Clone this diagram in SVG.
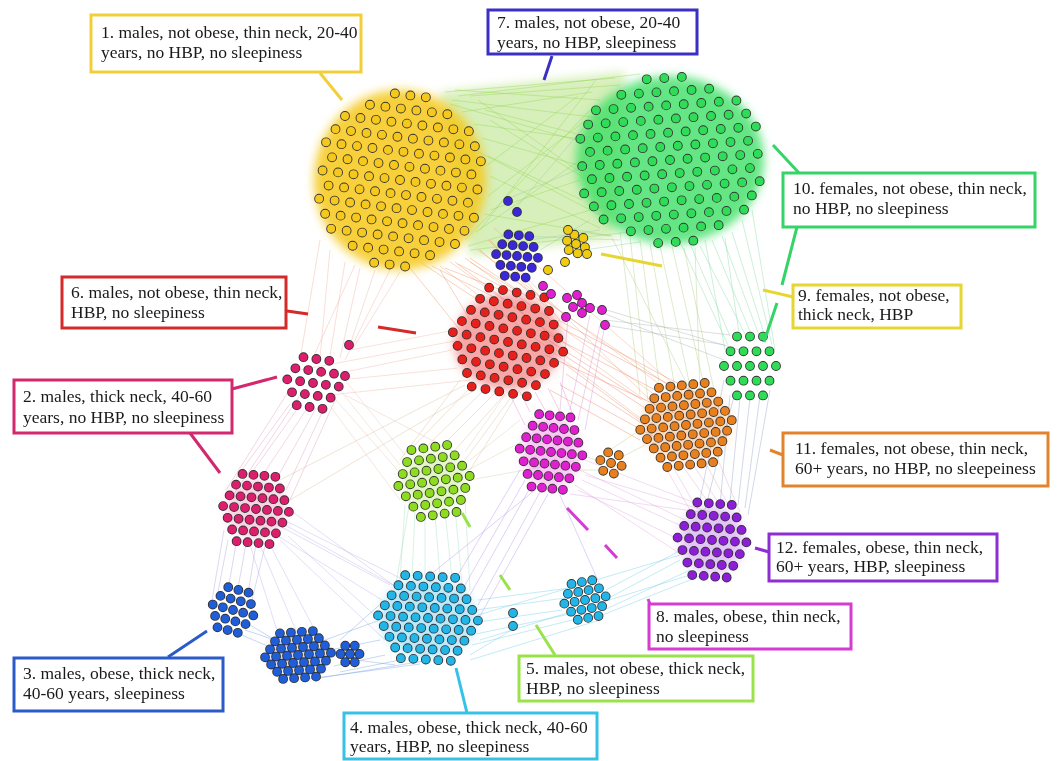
<svg xmlns="http://www.w3.org/2000/svg" xmlns:xlink="http://www.w3.org/1999/xlink" width="1060" height="761" viewBox="0 0 1060 761">
<style>
.lb{fill:#fff;stroke-width:3}
.t{font-size:17.5px;fill:#1a1a1a}
.ld{fill:none;stroke-width:3;stroke-linecap:butt}
.e{fill:none;stroke-width:.7;opacity:.55}
.o{stroke:#333;stroke-width:9.8;fill:none}
.d{stroke-width:8;fill:none}
</style>
<defs>
<filter id="bl" x="-30%" y="-30%" width="160%" height="160%"><feGaussianBlur stdDeviation="5"/></filter>
<path id="B" vector-effect="non-scaling-stroke" stroke-linecap="round" d="M-1-5.196h0m1 0h0m1 0h0M-2.5-4.33h0m1 0h0m1 0h0m1 0h0m1 0h0m1 0h0M-4-3.464h0m1 0h0m1 0h0m1 0h0m1 0h0m1 0h0m1 0h0m1 0h0m1 0h0M-4.5-2.598h0m1 0h0m1 0h0m1 0h0m1 0h0m1 0h0m1 0h0m1 0h0m1 0h0m1 0h0M-5-1.732h0m1 0h0m1 0h0m1 0h0m1 0h0m1 0h0m1 0h0m1 0h0m1 0h0m1 0h0m1 0h0M-4.5-.866h0m1 0h0m1 0h0m1 0h0m1 0h0m1 0h0m1 0h0m1 0h0m1 0h0m1 0h0M-5 0h0m1 0h0m1 0h0m1 0h0m1 0h0m1 0h0m1 0h0m1 0h0m1 0h0m1 0h0m1 0h0M-4.5 .866h0m1 0h0m1 0h0m1 0h0m1 0h0m1 0h0m1 0h0m1 0h0m1 0h0m1 0h0M-5 1.732h0m1 0h0m1 0h0m1 0h0m1 0h0m1 0h0m1 0h0m1 0h0m1 0h0m1 0h0m1 0h0M-4.5 2.598h0m1 0h0m1 0h0m1 0h0m1 0h0m1 0h0m1 0h0m1 0h0m1 0h0m1 0h0M-4 3.464h0m1 0h0m1 0h0m1 0h0m1 0h0m1 0h0m1 0h0m1 0h0m1 0h0M-2.5 4.33h0m1 0h0m1 0h0m1 0h0m1 0h0m1 0h0M-1 5.196h0m1 0h0m1 0h0"/>
<path id="M" vector-effect="non-scaling-stroke" stroke-linecap="round" d="M-2-3.464h0m1 0h0m1 0h0m1 0h0m1 0h0M-2.5-2.598h0m1 0h0m1 0h0m1 0h0m1 0h0m1 0h0M-3-1.732h0m1 0h0m1 0h0m1 0h0m1 0h0m1 0h0m1 0h0M-3.5-.866h0m1 0h0m1 0h0m1 0h0m1 0h0m1 0h0m1 0h0m1 0h0M-4 0h0m1 0h0m1 0h0m1 0h0m1 0h0m1 0h0m1 0h0m1 0h0m1 0h0M-3.5 .866h0m1 0h0m1 0h0m1 0h0m1 0h0m1 0h0m1 0h0m1 0h0M-3 1.732h0m1 0h0m1 0h0m1 0h0m1 0h0m1 0h0m1 0h0M-2.5 2.598h0m1 0h0m1 0h0m1 0h0m1 0h0m1 0h0M-2 3.464h0m1 0h0m1 0h0m1 0h0m1 0h0"/>
<path id="S" vector-effect="non-scaling-stroke" stroke-linecap="round" d="M-1.5-2.598h0m1 0h0m1 0h0m1 0h0M-2-1.732h0m1 0h0m1 0h0m1 0h0m1 0h0M-2.5-.866h0m1 0h0m1 0h0m1 0h0m1 0h0m1 0h0M-3 0h0m1 0h0m1 0h0m1 0h0m1 0h0m1 0h0m1 0h0M-2.5 .866h0m1 0h0m1 0h0m1 0h0m1 0h0m1 0h0M-2 1.732h0m1 0h0m1 0h0m1 0h0m1 0h0M-1.5 2.598h0m1 0h0m1 0h0m1 0h0"/>
<path id="T" vector-effect="non-scaling-stroke" stroke-linecap="round" d="M-1-1.732h0m1 0h0m1 0h0M-1.5-.866h0m1 0h0m1 0h0m1 0h0M-2 0h0m1 0h0m1 0h0m1 0h0m1 0h0M-1.5 .866h0m1 0h0m1 0h0m1 0h0M-1 1.732h0m1 0h0m1 0h0"/>
<path id="U" vector-effect="non-scaling-stroke" stroke-linecap="round" d="M-.5-.866h0m1 0h0M-1 0h0m1 0h0m1 0h0M-.5 .866h0m1 0h0"/>
</defs>
<rect width="1060" height="761" fill="#fff"/>

<g id="edges">
<polygon points="440,92 625,72 615,238 470,256" fill="#a8dc68" opacity=".45" filter="url(#bl)"/>
<path class="e" stroke="#8fd44a" d="M445 92L615 78M452 100L600 118M462 112L592 92M474 124L588 140M482 138L596 170M488 156L582 200M490 176L600 228M488 196L586 120M484 214L612 236M476 232L580 160M468 246L604 206M458 96L640 74M486 166L578 96M480 230L596 80M470 250L630 232M490 120L620 200M450 104L610 150M465 240L590 110M478 100L605 190M455 90L600 100M470 96L620 85M485 110L600 140M490 210L580 180M475 150L600 215"/>
<path class="e" stroke="#90c8a0" d="M600 230L530 240M610 236L580 232M620 240L520 236M640 242L584 250M590 220L540 250M505 200L600 160M510 215L590 120"/>
<path class="e" stroke="#78d89c" d="M690 244L730 336M700 246L745 334M712 240L752 336M722 236L760 338M732 232L766 340M742 220L772 345M705 240L725 350M725 238L740 340M752 210L775 350M680 242L728 345"/>
<path class="e" stroke="#a8c878" d="M640 240L660 390M650 244L675 388M660 246L690 386M672 246L705 390M684 248L715 395M630 236L648 400M695 248L700 390M620 232L640 395M612 238L690 390"/>
<path class="e" stroke="#f08a50" d="M420 262L478 300M432 266L492 296M445 268L506 292M458 264L520 296M470 258L532 300M480 250L548 308M490 240L560 320M440 270L470 320M410 268L460 330M470 262L515 290M455 262L545 330"/>
<path class="e" stroke="#f09a70" d="M450 262L645 400M465 258L655 395M478 250L670 392M488 240L660 410M440 266L640 418M494 228L680 390M500 270L690 400"/>
<path class="e" stroke="#f0785a" d="M548 340L642 400M556 350L648 410M562 362L640 420M566 374L652 430M560 385L660 440M540 330L665 395M565 330L680 390M550 390L640 440M558 320L700 395M545 355L690 420"/>
<path class="e" stroke="#f0a898" d="M330 250L320 358M345 262L330 356M360 268L340 358M375 270L350 345M390 270L345 360M320 240L300 360M400 272L352 350M355 265L312 360"/>
<path class="e" stroke="#f0b0a0" d="M455 330L350 350M452 350L345 372M458 368L340 380M470 380L330 395M460 340L300 370"/>
<path class="e" stroke="#d8b890" d="M470 388L410 450M482 392L425 448M494 394L440 448M505 394L455 450M515 392L465 460M460 380L400 460M520 390L470 470M475 390L290 500M465 385L280 480"/>
<path class="e" stroke="#e090b8" d="M290 404L236 478M298 408L248 478M306 410L262 476M316 408L276 480M326 404L286 490M336 398L290 500M288 392L226 490M300 395L230 500"/>
<path class="e" stroke="#e0c0a8" d="M340 390L400 465M345 380L405 455M336 400L415 490M330 406L400 500M345 395L460 455"/>
<path class="e" stroke="#a898d8" d="M228 540L218 592M236 544L228 590M246 544L238 588M256 544L248 594M266 542L252 600M224 530L212 600"/>
<path class="e" stroke="#b8a8e8" d="M268 530L382 600M276 524L390 585M284 520L400 578M288 536L380 620M280 540L385 640M260 545L300 640M270 545L320 640M250 545L280 640M290 510L400 590M285 525L420 600"/>
<path class="e" stroke="#6898e0" d="M325 640L380 620M330 650L380 640M334 666L385 655M340 672L400 660M356 660L395 665M320 678L430 660M250 625L275 640M245 630L290 645M340 640L385 600M230 630L300 660M300 680L420 664"/>
<path class="e" stroke="#98dcb8" d="M405 505L400 580M415 512L412 576M425 515L425 574M435 515L440 576M445 512L452 578M455 508L462 584M465 500L470 590M410 500L395 590"/>
<path class="e" stroke="#d8c8a0" d="M468 470L525 440M470 460L520 420M465 452L505 395M470 480L580 460"/>
<path class="e" stroke="#60c8e8" d="M476 610L565 598M478 622L562 610M476 634L570 614M472 645L580 618M478 600L570 588M470 655L515 628M605 600L680 560M606 590L685 548M604 610L690 570M600 616L700 576M480 640L690 575M478 615L680 555M470 660L600 620"/>
<path class="e" stroke="#e09ae0" d="M580 470L685 520M582 480L690 530M578 490L680 540M570 494L700 512M585 460L700 505M575 485L682 555M585 475L720 515"/>
<path class="e" stroke="#e0a0c0" d="M670 462L695 505M682 465L708 502M694 466L720 505M706 464L730 508M718 460L740 512M660 458L690 510"/>
<path class="e" stroke="#8898c8" d="M730 395L720 505M740 398L730 502M750 398L738 505M760 396L745 508M770 390L748 515M724 380L700 500M735 392L705 510"/>
<path class="e" stroke="#a888e8" d="M525 480L465 585M530 488L470 595M540 492L478 605M548 494L475 625M520 470L455 580M560 495L600 585M535 490L430 575"/>
<path class="e" stroke="#e878c8" d="M520 392L530 412M535 392L545 410M548 388L560 412M560 382L575 420M510 395L525 425"/>
<path class="e" stroke="#d088d0" d="M600 325L578 420M590 315L570 410M568 318L560 410M605 325L585 430"/>
<path class="e" stroke="#a0a8b0" d="M605 325L725 345M600 312L724 360M590 305L740 350M605 320L730 335"/>
<path class="e" stroke="#b8c878" d="M600 462L583 455M602 470L580 470M610 450L640 430M620 458L645 445"/>
</g>

<g id="hazes" filter="url(#bl)">
<ellipse cx="400" cy="180" rx="86" ry="90" fill="#f6c818" opacity=".85"/>
<ellipse cx="670" cy="160" rx="94" ry="84" fill="#38df62" opacity=".78"/>
<ellipse cx="508" cy="342" rx="54" ry="48" fill="#f03a3a" opacity=".45"/>
<ellipse cx="686" cy="425" rx="44" ry="36" fill="#f09040" opacity=".35"/>
<ellipse cx="428" cy="618" rx="48" ry="40" fill="#40c0f0" opacity=".35"/>
<ellipse cx="712" cy="540" rx="32" ry="34" fill="#a040e0" opacity=".3"/>
<ellipse cx="551" cy="452" rx="28" ry="36" fill="#f040e0" opacity=".3"/>
<ellipse cx="434" cy="481" rx="32" ry="30" fill="#a0e040" opacity=".3"/>
<ellipse cx="256" cy="509" rx="30" ry="30" fill="#e03080" opacity=".22"/>
<ellipse cx="298" cy="655" rx="30" ry="20" fill="#3060e0" opacity=".22"/>
</g>

<g id="cluster-1"><use href="#B" class="o" transform="translate(400 180) rotate(7) scale(15.6 16.4)"/><use href="#B" class="d" stroke="#f6c81c" transform="translate(400 180) rotate(7) scale(15.6 16.4)"/></g>
<g id="cluster-10"><use href="#B" class="o" transform="translate(670 160) rotate(-4) scale(17.6 15.8)"/><use href="#B" class="d" stroke="#2fdc58" transform="translate(670 160) rotate(-4) scale(17.6 15.8)"/></g>
<g id="cluster-6"><use href="#M" class="o" transform="translate(508 342) rotate(10) scale(14 14.5)"/><use href="#M" class="d" stroke="#e8201c" transform="translate(508 342) rotate(10) scale(14 14.5)"/></g>
<g id="cluster-7"><use href="#T" class="o" transform="translate(517 256) rotate(5) scale(10.5 12)"/><use href="#T" class="d" stroke="#3a28d8" transform="translate(517 256) rotate(5) scale(10.5 12)"/>
<path class="o" stroke-linecap="round" d="M517 212h0M508 201h0"/><path class="d" stroke="#3a28d8" stroke-linecap="round" d="M517 212h0M508 201h0"/></g>
<g id="cluster-9"><use href="#U" class="o" transform="translate(576 244) rotate(20) scale(9.5)"/><use href="#U" class="d" stroke="#f0cc10" transform="translate(576 244) rotate(20) scale(9.5)"/>
<path class="o" stroke-linecap="round" d="M568 230h0M587 254h0M565 262h0M548 270h0"/><path class="d" stroke="#f0cc10" stroke-linecap="round" d="M568 230h0M587 254h0M565 262h0M548 270h0"/></g>
<g id="cluster-8b"><path class="o" stroke-linecap="round" d="M543 286h0M551 294h0M567 298h0M577 295h0M573 307h0M582 303h0M590 308h0M602 310h0M582 313h0M566 317h0M605 325h0"/><path class="d" stroke="#e020d0" stroke-linecap="round" d="M543 286h0M551 294h0M567 298h0M577 295h0M573 307h0M582 303h0M590 308h0M602 310h0M582 313h0M566 317h0M605 325h0"/></g>
<g id="cluster-2a"><use href="#T" class="o" transform="translate(313 383) rotate(8) scale(13 14)"/><use href="#T" class="d" stroke="#dc1e6c" transform="translate(313 383) rotate(8) scale(13 14)"/>
<path class="o" stroke-linecap="round" d="M349 345h0M345 376h0"/><path class="d" stroke="#dc1e6c" stroke-linecap="round" d="M349 345h0M345 376h0"/></g>
<g id="cluster-2b"><use href="#S" class="o" transform="translate(256 509) rotate(5) scale(11 13)"/><use href="#S" class="d" stroke="#dc1e6c" transform="translate(256 509) rotate(5) scale(11 13)"/></g>
<g id="cluster-5"><use href="#S" class="o" transform="translate(434 481) rotate(-8) scale(12 13)"/><use href="#S" class="d" stroke="#8edc20" transform="translate(434 481) rotate(-8) scale(12 13)"/></g>
<g id="cluster-8"><use href="#S" class="o" transform="translate(551 452) rotate(6) scale(10.5 14)"/><use href="#S" class="d" stroke="#e020d0" transform="translate(551 452) rotate(6) scale(10.5 14)"/></g>
<g id="cluster-11"><use href="#M" class="o" transform="translate(686 425) rotate(-6) scale(11.5 11.5)"/><use href="#M" class="d" stroke="#e8801e" transform="translate(686 425) rotate(-6) scale(11.5 11.5)"/>
<use href="#U" class="o" transform="translate(611 463) rotate(15) scale(11)"/><use href="#U" class="d" stroke="#e8801e" transform="translate(611 463) rotate(15) scale(11)"/></g>
<g id="cluster-10b"><use href="#T" class="o" transform="translate(750 366) scale(13 17)"/><use href="#T" class="d" stroke="#2fdc58" transform="translate(750 366) scale(13 17)"/></g>
<g id="cluster-12"><use href="#S" class="o" transform="translate(712 540) rotate(4) scale(11.5 14)"/><use href="#S" class="d" stroke="#8c1ed8" transform="translate(712 540) rotate(4) scale(11.5 14)"/></g>
<g id="cluster-4b"><use href="#T" class="o" transform="translate(585 600) rotate(-10) scale(10.5 10.5)"/><use href="#T" class="d" stroke="#22b6e8" transform="translate(585 600) rotate(-10) scale(10.5 10.5)"/>
<path class="o" stroke-linecap="round" d="M513 613h0M513 626h0"/><path class="d" stroke="#22b6e8" stroke-linecap="round" d="M513 613h0M513 626h0"/></g>
<g id="cluster-4"><use href="#M" class="o" transform="translate(428 618) rotate(3) scale(12.5 12)"/><use href="#M" class="d" stroke="#22b6e8" transform="translate(428 618) rotate(3) scale(12.5 12)"/></g>
<g id="cluster-3"><use href="#T" class="o" transform="translate(233 610) rotate(15) scale(10.5 12)"/><use href="#T" class="d" stroke="#1f5ed8" transform="translate(233 610) rotate(15) scale(10.5 12)"/>
<use href="#S" class="o" transform="translate(298 655) rotate(-4) scale(11 8.8)"/><use href="#S" class="d" stroke="#1f5ed8" transform="translate(298 655) rotate(-4) scale(11 8.8)"/>
<use href="#U" class="o" transform="translate(350 654) scale(9.5)"/><use href="#U" class="d" stroke="#1f5ed8" transform="translate(350 654) scale(9.5)"/></g>

<g id="leaders">
<path class="ld" stroke="#f2cf3a" d="M320 73L342 100"/>
<path class="ld" stroke="#3b2fc4" d="M552 56L544 80"/>
<path class="ld" stroke="#35d468" d="M773 145L799 173M797 227L782 285M777 303L764 342"/>
<path class="ld" stroke="#e6d632" d="M793 297L763 290M601 254L662 266"/>
<path class="ld" stroke="#d42a2a" d="M287 311L308 314M378 327L416 333"/>
<path class="ld" stroke="#d2286e" d="M232 389L277 377M190 433L220 473"/>
<path class="ld" stroke="#2a5bc8" d="M168 657L207 631"/>
<path class="ld" stroke="#35c2e6" d="M467 713L456 668"/>
<path class="ld" stroke="#9ae24a" d="M555 655L536 625M462 513L470 527M500 575L510 590"/>
<path class="ld" stroke="#d43cd4" d="M567 508L588 530M605 545L617 558M648 599L650 604"/>
<path class="ld" stroke="#e2832e" d="M770 450L783 455"/>
<path class="ld" stroke="#8e2ed2" d="M755 548L769 552"/>
</g>

<g id="labels" font-family="'Liberation Serif', 'DejaVu Serif', serif">
<g id="label-1"><rect class="lb" stroke="#f2cf3a" x="91" y="15" width="270" height="57"/><text class="t" font-family="'Liberation Serif', 'DejaVu Serif', serif" x="101" y="38">1. males, not obese, thin neck, 20-40</text><text class="t" font-family="'Liberation Serif', 'DejaVu Serif', serif" x="101" y="58">years, no HBP, no sleepiness</text></g>
<g id="label-7"><rect class="lb" stroke="#3b2fc4" x="488" y="10" width="209" height="44"/><text class="t" font-family="'Liberation Serif', 'DejaVu Serif', serif" x="497" y="28">7. males, not obese, 20-40</text><text class="t" font-family="'Liberation Serif', 'DejaVu Serif', serif" x="497" y="48">years, no HBP, sleepiness</text></g>
<g id="label-10"><rect class="lb" stroke="#35d468" x="783" y="173" width="252" height="54"/><text class="t" font-family="'Liberation Serif', 'DejaVu Serif', serif" x="793" y="194">10. females, not obese, thin neck,</text><text class="t" font-family="'Liberation Serif', 'DejaVu Serif', serif" x="793" y="214">no HBP, no sleepiness</text></g>
<g id="label-9"><rect class="lb" stroke="#e6d632" x="793" y="285" width="168" height="43"/><text class="t" font-family="'Liberation Serif', 'DejaVu Serif', serif" x="798" y="301">9. females, not obese,</text><text class="t" font-family="'Liberation Serif', 'DejaVu Serif', serif" x="798" y="320">thick neck, HBP</text></g>
<g id="label-6"><rect class="lb" stroke="#d42a2a" x="62" y="277" width="224" height="51"/><text class="t" font-family="'Liberation Serif', 'DejaVu Serif', serif" x="71" y="298">6. males, not obese, thin neck,</text><text class="t" font-family="'Liberation Serif', 'DejaVu Serif', serif" x="71" y="318">HBP, no sleepiness</text></g>
<g id="label-2"><rect class="lb" stroke="#d2286e" x="14" y="380" width="218" height="53"/><text class="t" font-family="'Liberation Serif', 'DejaVu Serif', serif" x="23" y="402">2. males, thick neck, 40-60</text><text class="t" font-family="'Liberation Serif', 'DejaVu Serif', serif" x="23" y="423">years, no HBP, no sleepiness</text></g>
<g id="label-3"><rect class="lb" stroke="#2a5bc8" x="14" y="658" width="209" height="53"/><text class="t" font-family="'Liberation Serif', 'DejaVu Serif', serif" x="23" y="679">3. males, obese, thick neck,</text><text class="t" font-family="'Liberation Serif', 'DejaVu Serif', serif" x="23" y="699">40-60 years, sleepiness</text></g>
<g id="label-4"><rect class="lb" stroke="#35c2e6" x="344" y="713" width="253" height="46"/><text class="t" font-family="'Liberation Serif', 'DejaVu Serif', serif" x="350" y="733">4. males, obese, thick neck, 40-60</text><text class="t" font-family="'Liberation Serif', 'DejaVu Serif', serif" x="350" y="752">years, HBP, no sleepiness</text></g>
<g id="label-5"><rect class="lb" stroke="#9ae24a" x="519" y="656" width="234" height="45"/><text class="t" font-family="'Liberation Serif', 'DejaVu Serif', serif" x="526" y="674">5. males, not obese, thick neck,</text><text class="t" font-family="'Liberation Serif', 'DejaVu Serif', serif" x="526" y="694">HBP, no sleepiness</text></g>
<g id="label-8"><rect class="lb" stroke="#d43cd4" x="649" y="604" width="202" height="45"/><text class="t" font-family="'Liberation Serif', 'DejaVu Serif', serif" x="656" y="622">8. males, obese, thin neck,</text><text class="t" font-family="'Liberation Serif', 'DejaVu Serif', serif" x="656" y="642">no sleepiness</text></g>
<g id="label-11"><rect class="lb" stroke="#e2832e" x="783" y="433" width="265" height="53"/><text class="t" font-family="'Liberation Serif', 'DejaVu Serif', serif" x="795" y="454">11. females, not obese, thin neck,</text><text class="t" font-family="'Liberation Serif', 'DejaVu Serif', serif" x="795" y="474">60+ years, no HBP, no sleepeiness</text></g>
<g id="label-12"><rect class="lb" stroke="#8e2ed2" x="769" y="534" width="228" height="47"/><text class="t" font-family="'Liberation Serif', 'DejaVu Serif', serif" x="776" y="553">12. females, obese, thin neck,</text><text class="t" font-family="'Liberation Serif', 'DejaVu Serif', serif" x="776" y="572">60+ years, HBP, sleepiness</text></g>
</g>
</svg>
